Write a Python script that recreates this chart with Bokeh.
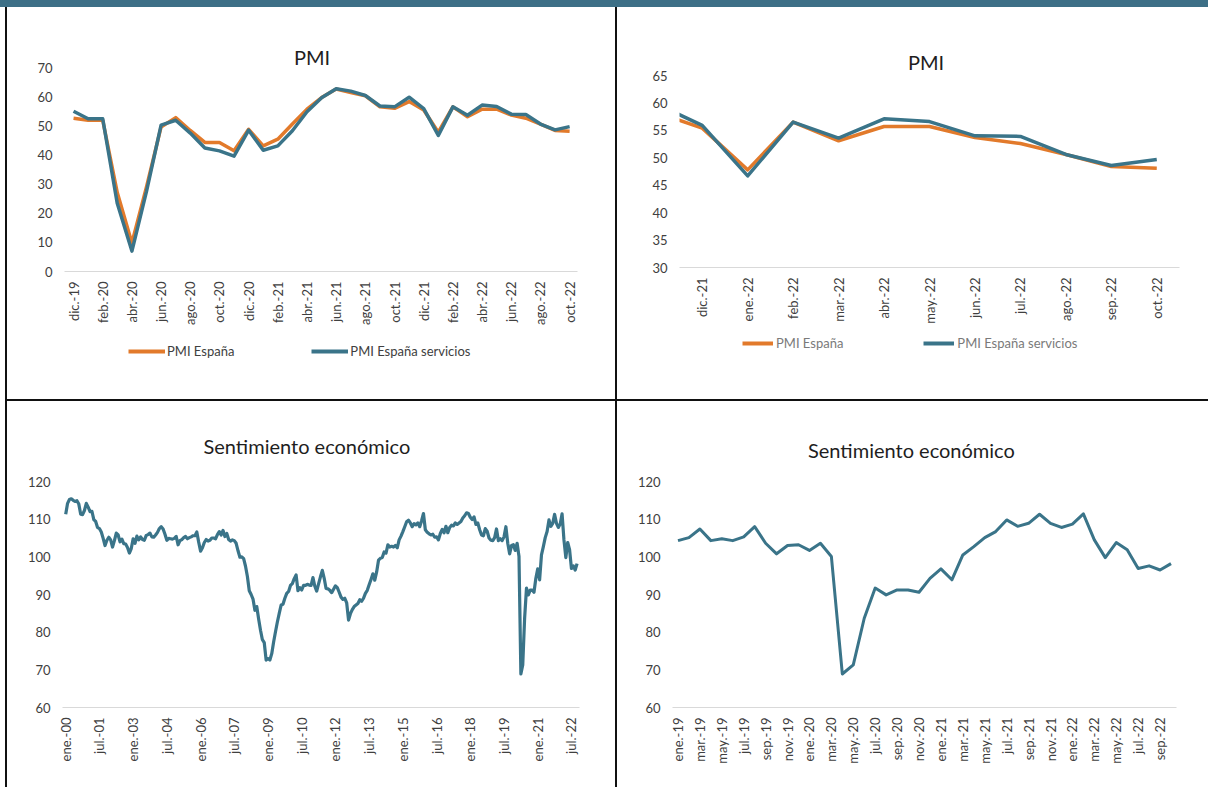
import math
from bokeh.plotting import figure
from bokeh.models import Range1d, FixedTicker, Legend, LegendItem, Spacer
from bokeh.layouts import column, row
from bokeh.embed import file_html
from bokeh.resources import INLINE

# ---------------- DATA ----------------
MESES = ["ene.", "feb.", "mar.", "abr.", "may.", "jun.", "jul.", "ago.", "sep.", "oct.", "nov.", "dic."]

# PMI, monthly dic.-19 .. oct.-22
pmi_meses = ["dic.-19",
             "ene.-20", "feb.-20", "mar.-20", "abr.-20", "may.-20", "jun.-20", "jul.-20", "ago.-20", "sep.-20", "oct.-20", "nov.-20", "dic.-20",
             "ene.-21", "feb.-21", "mar.-21", "abr.-21", "may.-21", "jun.-21", "jul.-21", "ago.-21", "sep.-21", "oct.-21", "nov.-21", "dic.-21",
             "ene.-22", "feb.-22", "mar.-22", "abr.-22", "may.-22", "jun.-22", "jul.-22", "ago.-22", "sep.-22", "oct.-22"]
pmi_espana = [52.6,
              51.9, 51.9, 27.0, 9.8, 29.0, 49.6, 52.8, 48.4, 44.3, 44.3, 41.4, 48.8,
              43.1, 45.4, 50.6, 55.7, 59.7, 62.6, 61.4, 60.3, 56.5, 56.0, 58.3, 55.4,
              47.8, 56.5, 53.1, 55.7, 55.7, 53.7, 52.6, 50.6, 48.4, 48.1]
pmi_servicios = [55.0,
                 52.4, 52.4, 23.3, 7.0, 27.5, 50.2, 51.9, 47.5, 42.4, 41.4, 39.6, 48.5,
                 41.6, 43.1, 48.3, 54.8, 59.6, 62.7, 61.9, 60.4, 56.8, 56.5, 59.8, 55.9,
                 46.7, 56.5, 53.6, 57.1, 56.6, 54.0, 53.9, 50.6, 48.6, 49.7]
# zoomed PMI chart: data from nov.-21 (index 23), axis labelled from dic.-21
pmi_zoom_start = 23

# Economic sentiment, monthly ene.-00 .. oct.-22
sent_2000_2018 = [
    111.3, 114.2, 115.2, 115.4, 115.0, 114.7, 114.9, 114.0, 111.3, 111.2, 112.3, 114.2,
    113.2, 112.0, 112.1, 109.9, 109.4, 107.8, 107.5, 106.6, 104.9, 103.0, 104.4, 105.2,
    104.5, 102.6, 104.3, 106.3, 105.8, 104.0, 104.7, 103.5, 103.4, 102.5, 101.0, 102.2,
    104.8, 103.6, 105.5, 104.5, 105.3, 104.6, 104.4, 105.7, 105.9, 106.3, 105.3, 105.2,
    105.8, 106.5, 107.5, 108.0, 107.4, 106.0, 104.4, 104.9, 104.8, 104.7, 104.9, 105.4,
    103.2, 104.3, 104.6, 105.1, 105.4, 104.8, 105.1, 105.3, 105.6, 105.6, 106.6, 103.9,
    101.5, 102.4, 103.8, 104.6, 104.2, 104.4, 105.0, 105.0, 104.8, 105.9, 106.7, 105.8,
    107.0, 105.4, 106.2, 104.6, 104.2, 104.5, 104.3, 103.6, 101.6, 99.9, 100.0, 99.5,
    97.5, 94.8, 91.0, 90.0, 88.8, 85.8, 86.8, 83.5, 80.5, 78.0, 77.2, 72.6,
    73.0, 72.6, 74.3, 77.4, 80.1, 82.7, 85.0, 87.2, 87.4, 89.0, 90.3, 90.8,
    92.4, 92.9, 94.2, 95.2, 91.0, 91.8, 91.2, 92.4, 92.4, 92.7, 92.5, 92.4,
    94.5, 92.2, 90.9, 92.8, 94.7, 96.4, 94.3, 91.6, 91.5, 91.1, 90.5, 91.4,
    92.3, 91.8, 90.6, 89.3, 88.7, 89.0, 87.8, 83.2, 84.9, 86.0, 86.8, 87.2,
    87.6, 88.6, 88.2, 89.0, 90.3, 91.1, 92.6, 94.0, 95.5, 93.8, 96.0, 99.1,
    99.6, 99.8, 101.3, 101.0, 103.2, 102.6, 102.8, 102.6, 103.0, 102.4, 104.5, 105.5,
    106.7, 108.0, 109.3, 109.7, 109.0, 108.0, 108.8, 108.5, 109.0, 108.0, 109.6, 111.5,
    107.2, 106.5, 106.1, 105.8, 106.0, 105.2, 105.3, 104.5, 106.2, 107.3, 106.4, 108.1,
    106.4, 107.8, 108.4, 108.2, 109.0, 108.6, 109.0, 109.4, 110.3, 110.9, 111.7, 111.5,
    110.5, 109.9, 110.6, 108.6, 109.0, 107.2, 105.8, 105.6, 107.5, 106.8, 105.0, 104.4,
]
sent_2019_2022 = [
    104.3, 105.1, 107.4, 104.3, 104.8, 104.3, 105.3, 108.0, 103.6, 100.8, 103.0, 103.2,
    101.7, 103.6, 100.1, 68.9, 71.3, 83.7, 91.7, 89.9, 91.2, 91.2, 90.6, 94.3,
    96.8, 93.9, 100.5, 102.7, 105.1, 106.7, 109.8, 108.1, 108.9, 111.3, 108.9, 107.8,
    108.7, 111.4, 104.5, 99.8, 103.8, 101.9, 96.9, 97.6, 96.5, 98.2,
]
sentimiento = sent_2000_2018 + sent_2019_2022
sent_meses = [f"{MESES[i % 12]}-{(i // 12) % 100:02d}" for i in range(len(sentimiento))]
sent_corto = sent_2019_2022
sent_corto_meses = sent_meses[len(sent_2000_2018):]

# ---------------- STYLE ----------------
ORANGE = "#e27a2b"
TEAL = "#3a7489"
BAR = "#3d6f86"
FONT = "Lato"
TICK_COLOR = "#404040"


def make_fig(w, h, xr, yr, bl, br, bt, bb, yticks, xticks, xlabels, title, standoff, offset):
    p = figure(width=w, height=h, x_range=Range1d(*xr), y_range=Range1d(*yr),
               output_backend="svg", toolbar_location=None, title=title,
               min_border_left=bl, min_border_right=br, min_border_top=bt, min_border_bottom=bb)
    p.outline_line_color = None
    p.xgrid.visible = False
    p.ygrid.visible = False
    p.background_fill_color = "white"
    p.border_fill_color = "white"
    p.title.align = "left"
    p.title.text_font = FONT
    p.title.text_font_size = "20px"
    p.title.text_font_style = "normal"
    p.title.text_color = "#1e1e1e"
    p.title.standoff = standoff
    p.title.offset = offset
    for ax in (p.xaxis, p.yaxis):
        ax.major_tick_line_color = None
        ax.minor_tick_line_color = None
        ax.major_tick_out = 0
        ax.major_tick_in = 0
        ax.minor_tick_out = 0
        ax.minor_tick_in = 0
        ax.major_label_text_font = FONT
        ax.major_label_text_font_size = "13px"
        ax.major_label_text_color = TICK_COLOR
    p.yaxis.ticker = FixedTicker(ticks=yticks)
    p.yaxis.axis_line_color = None
    p.yaxis.major_label_standoff = 12
    p.xaxis.ticker = FixedTicker(ticks=xticks)
    p.xaxis.major_label_overrides = {t: l for t, l in zip(xticks, xlabels)}
    p.xaxis.major_label_orientation = math.pi / 2
    p.xaxis.axis_line_color = "#d9d9d9"
    p.xaxis.axis_line_width = 1
    p.xaxis.major_label_standoff = 10
    return p


def legend_fig(w, h, xs, ya, yb, glyph_w, standoff, spacing, vx, vy, color, lw):
    # legend-only strip; its series renderers lie outside the (0,1) view and are clipped
    q = figure(width=w, height=h, x_range=Range1d(0, 1), y_range=Range1d(0, 1),
               x_axis_location=None, y_axis_location=None,
               output_backend="svg", toolbar_location=None, min_border=0)
    q.xgrid.visible = False
    q.ygrid.visible = False
    q.outline_line_color = None
    q.background_fill_color = "white"
    q.border_fill_color = "white"
    ra = q.line(xs, ya, line_color=ORANGE, line_width=lw)
    rb = q.line(xs, yb, line_color=TEAL, line_width=lw)
    lg = Legend(items=[LegendItem(label="PMI España", renderers=[ra]),
                       LegendItem(label="PMI España servicios", renderers=[rb])],
                location=(vx, vy), orientation="horizontal", glyph_width=glyph_w, glyph_height=14,
                label_height=14, label_standoff=standoff, spacing=spacing, padding=0, margin=0,
                border_line_color=None, background_fill_alpha=0,
                label_text_font=FONT, label_text_font_size="13px", label_text_color=color)
    q.add_layout(lg)
    return q


# ---------------- TOP LEFT: PMI ----------------
idx_tl = list(range(len(pmi_meses)))
tl_ticks = idx_tl[::2]
p1 = make_fig(608, 324, (-0.62, 34.54), (0, 70), 57, 38, 60, 60,
              list(range(0, 71, 10)), tl_ticks, [pmi_meses[i] for i in tl_ticks],
              "PMI", -2, 229.5)
p1.line(idx_tl, pmi_espana, line_color=ORANGE, line_width=3.5, line_join="round")
p1.line(idx_tl, pmi_servicios, line_color=TEAL, line_width=3.5, line_join="round")
l1 = legend_fig(608, 68, idx_tl, pmi_espana, pmi_servicios, 37, 2, 77, 64, 40, "#404040", 4)

# ---------------- TOP RIGHT: PMI zoom ----------------
tr_esp = pmi_espana[pmi_zoom_start:]
tr_ser = pmi_servicios[pmi_zoom_start:]
tr_lab = pmi_meses[pmi_zoom_start:]
idx_tr = list(range(len(tr_esp)))
tr_ticks = idx_tr[1:]
p2 = make_fig(591, 324, (0.5, 11.5), (30, 65), 62, 29, 68, 64,
              list(range(30, 66, 5)), tr_ticks, [tr_lab[i] for i in tr_ticks],
              "PMI", 4, 228.5)
p2.line(idx_tr, tr_esp, line_color=ORANGE, line_width=3.5, line_join="round")
p2.line(idx_tr, tr_ser, line_color=TEAL, line_width=3.5, line_join="round")
l2 = legend_fig(591, 68, idx_tr, tr_esp, tr_ser, 31, 3, 80, 63, 48, "#7a7a7a", 4)

# ---------------- BOTTOM LEFT: Sentimiento (long) ----------------
idx_bl = list(range(len(sentimiento)))
bl_ticks = idx_bl[::18]
p3 = make_fig(608, 386, (-1.71, 274.3), (60, 120), 55, 36, 77, 75,
              list(range(60, 121, 10)), bl_ticks, [sent_meses[i] for i in bl_ticks],
              "Sentimiento económico", 48, 141)
p3.line(idx_bl, sentimiento, line_color=TEAL, line_width=3.2, line_join="round")

# ---------------- BOTTOM RIGHT: Sentimiento (short) ----------------
idx_br = list(range(len(sent_corto)))
br_ticks = idx_br[::2]
p4 = make_fig(591, 386, (-0.5, 45.5), (60, 120), 55, 32, 80, 80,
              list(range(60, 121, 10)), br_ticks, [sent_corto_meses[i] for i in br_ticks],
              "Sentimiento económico", 40, 135.5)
p4.line(idx_br, sent_corto, line_color=TEAL, line_width=3, line_join="round")

# ---------------- PAGE LAYOUT ----------------
def vline(h):
    return Spacer(width=2, height=h, styles={"background-color": "#111111"})


top_bar = Spacer(width=1208, height=7, styles={"background-color": BAR})
row_top = row(Spacer(width=5, height=392), vline(392), column(p1, l1), vline(392), column(p2, l2))
hline = row(Spacer(width=5, height=2), Spacer(width=1203, height=2, styles={"background-color": "#111111"}))
row_bot = row(Spacer(width=5, height=386), vline(386), p3, vline(386), p4)
page = column(top_bar, row_top, hline, row_bot)

open("out.html", "w").write(file_html(page, INLINE))
